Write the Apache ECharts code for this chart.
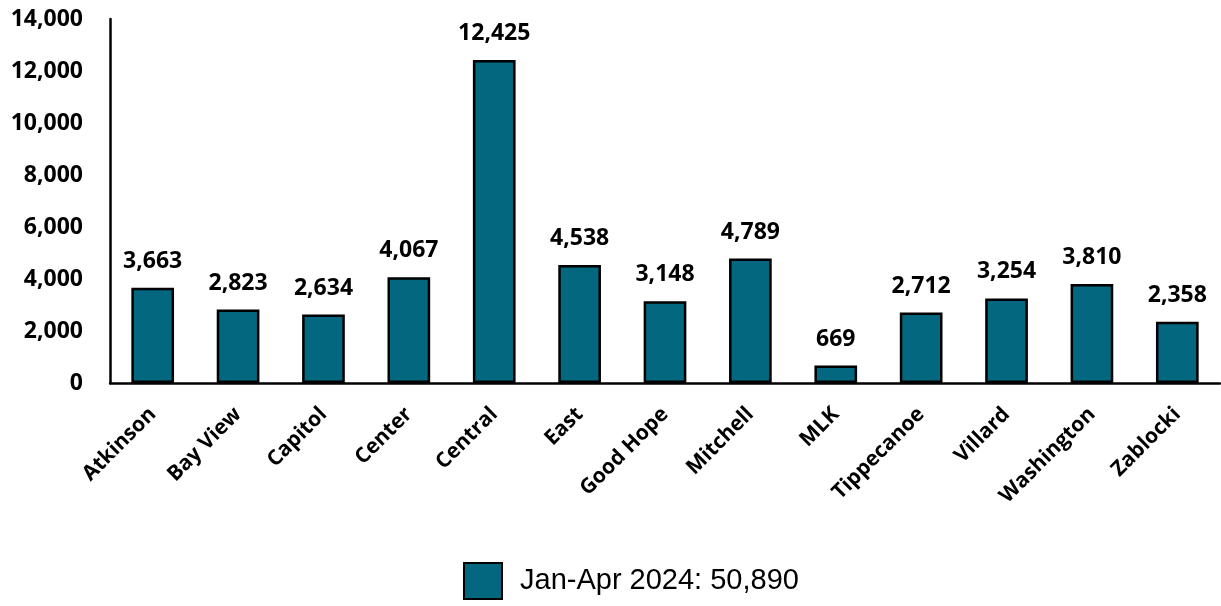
<!DOCTYPE html>
<html>
<head>
<meta charset="utf-8">
<script src="https://cdn.jsdelivr.net/npm/echarts@6/dist/echarts.min.js"></script>
<style>
  html, body { margin: 0; padding: 0; background: #fff; }
  #chart { width: 1221px; height: 606px; }
</style>
</head>
<body>
<div id="chart"></div>
<script>
const categories = ['Atkinson', 'Bay View', 'Capitol', 'Center', 'Central', 'East', 'Good Hope',
    'Mitchell', 'MLK', 'Tippecanoe', 'Villard', 'Washington', 'Zablocki'];
const visits = [3663, 2823, 2634, 4067, 12425, 4538, 3148, 4789, 669, 2712, 3254, 3810, 2358];
const seriesName = 'Jan-Apr 2024: 50,890';

const fmt = v => v.toLocaleString('en-US');
const font = '"Open Sans", sans-serif';

const chart = echarts.init(document.getElementById('chart'));
chart.setOption({
    animation: false,
    grid: { left: 110, right: 1, top: 19, bottom: 223 },
    legend: {
        bottom: 1,
        left: 458,
        icon: 'rect',
        itemWidth: 38,
        itemHeight: 36,
        textStyle: { fontFamily: '"Liberation Sans", Arial, sans-serif', fontSize: 29, color: '#000', padding: [0, 0, 0, 13] }
    },
    xAxis: {
        type: 'category',
        data: categories,
        axisLine: { lineStyle: { color: '#000', width: 2.5 } },
        axisTick: { alignWithLabel: true, length: 8, lineStyle: { color: '#000', width: 2.5 } },
        axisLabel: {
            interval: 0, rotate: 45, margin: 28,
            fontFamily: font, fontWeight: 'bold', fontSize: 21, color: '#000'
        }
    },
    yAxis: {
        type: 'value',
        min: 0, max: 14000, interval: 2000,
        splitLine: { show: false },
        axisLine: { show: true, lineStyle: { color: '#000', width: 2.5 } },
        axisTick: { show: false },
        axisLabel: {
            margin: 27, formatter: fmt,
            fontFamily: font, fontWeight: 'bold', fontSize: 23, color: '#000'
        }
    },
    series: [{
        name: seriesName,
        type: 'bar',
        data: visits,
        barWidth: '50%',
        itemStyle: { color: '#02677F', borderColor: '#000', borderWidth: 2.5 },
        label: {
            show: true, position: 'top', distance: 15,
            formatter: p => fmt(p.value),
            fontFamily: font, fontWeight: 'bold', fontSize: 23, color: '#000'
        }
    }]
});
</script>
</body>
</html>
